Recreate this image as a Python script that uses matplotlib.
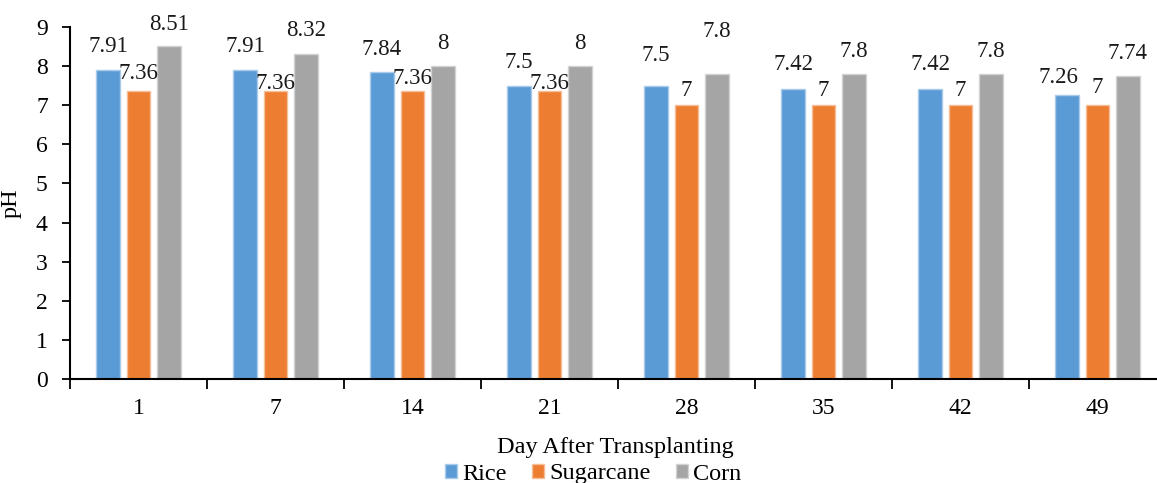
import matplotlib
matplotlib.use("Agg")
import matplotlib.pyplot as plt
import numpy as np

days = ["1", "7", "14", "21", "28", "35", "42", "49"]
rice = [7.91, 7.91, 7.84, 7.5, 7.5, 7.42, 7.42, 7.26]
sugarcane = [7.36, 7.36, 7.36, 7.36, 7, 7, 7, 7]
corn = [8.51, 8.32, 8, 8, 7.8, 7.8, 7.8, 7.74]
series_names = ["Rice", "Sugarcane", "Corn"]

colors = ["#5B9BD5", "#ED7D31", "#A5A5A5"]
edges = ["#A9CBEA", "#F6BE98", "#D2D2D2"]

# label offsets (pixels above bar top), styling only
dy_px = [
    [23.6, 23.6, 22.4, 22.7, 29.7, 23.8, 23.8, 18],
    [18, 8, 13, 8, 15, 15, 15, 18],
    [22, 22.6, 23, 23, 42, 22, 22, 23],
]
dx_px = [
    [0, 0, 0, 0, 0, 0, 0, -9],
    [0] * 8,
    [0] * 8,
]

plt.rcParams['font.family'] = ['Liberation Serif', 'DejaVu Serif']

W, H = 1157, 483
fig = plt.figure(figsize=(W / 100, H / 100), dpi=100)
ax = fig.add_axes([70 / W, (H - 379) / H, 1096 / W, 352 / H])

x = np.arange(len(days))
step = 0.2225
bw = 0.175
data = [rice, sugarcane, corn]
bars = []
for i, (vals, c, e) in enumerate(zip(data, colors, edges)):
    b = ax.bar(x + (i - 1) * step, vals, width=bw, color=c, edgecolor=e,
               linewidth=1.0, label=series_names[i], zorder=2)
    bars.append(b)
    for j, (rect, v) in enumerate(zip(b, vals)):
        ax.annotate(f"{v:g}", xy=(rect.get_x() + rect.get_width() / 2, v),
                    xytext=(dx_px[i][j] * 0.72, dy_px[i][j] * 0.72),
                    textcoords="offset points", ha="center", va="center",
                    fontsize=16.5, color="#1a1a1a")

ax.set_xlim(-0.5, len(days) - 0.5)
ax.set_ylim(0, 9)
ax.set_yticks(range(10))
ax.tick_params(axis='y', direction='out', length=6, width=1.3, labelsize=17,
               pad=10, colors='black')
ax.set_xticks(x)
ax.set_xticklabels(days)
ax.tick_params(axis='x', which='major', length=0, labelsize=17, pad=14)
ax.set_xticks(np.arange(len(days) + 1) - 0.5, minor=True)
ax.tick_params(axis='x', which='minor', direction='out', length=7, width=1.3)

for s in ["top", "right"]:
    ax.spines[s].set_visible(False)
for s in ["left", "bottom"]:
    ax.spines[s].set_linewidth(1.5)
    ax.spines[s].set_color("black")

ax.set_ylabel("pH", fontsize=17.5)
ax.yaxis.set_label_coords(-48 / 1096, 0.5)
fig.text(615 / W, 1 - 453 / H, "Day After Transplanting", ha="center",
         va="baseline", fontsize=17.5)

fig.legend(handles=bars, labels=series_names, loc="center",
           bbox_to_anchor=(593 / W, 1 - 474 / H), ncol=3, frameon=False,
           fontsize=17.5, handlelength=0.5, handleheight=0.5,
           handletextpad=0.2, columnspacing=1.05, borderpad=0.1)

fig.savefig("out.png", dpi=100)
